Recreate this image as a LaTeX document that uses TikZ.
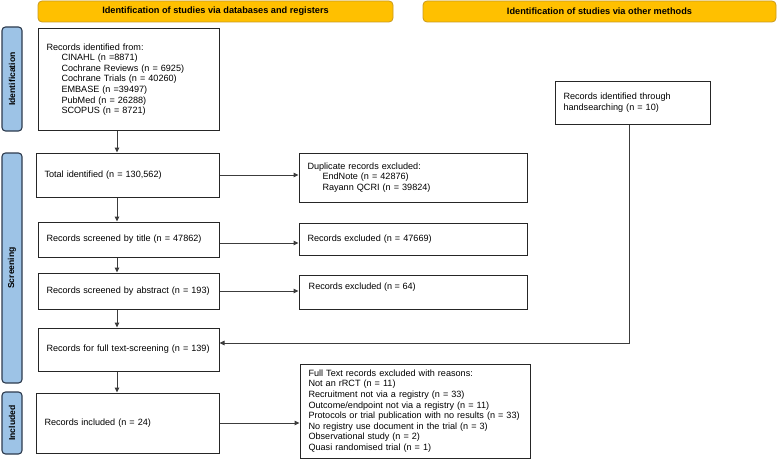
\documentclass[tikz,border=0pt]{standalone}
\usepackage{fontspec}
\setmainfont{Liberation Sans}
\usetikzlibrary{arrows.meta}
\definecolor{bannerfill}{HTML}{FFC000}
\definecolor{bannerdraw}{HTML}{C99A1E}
\definecolor{sidefill}{HTML}{9DC3E6}
\definecolor{sidedraw}{HTML}{2E3B4E}
\definecolor{linec}{HTML}{3C3C3C}
\begin{document}
\begin{tikzpicture}[x=1pt,y=-1pt,
  box/.style={draw=black!85, line width=1pt, fill=white, rectangle,
    inner xsep=8.5pt, inner ysep=0pt, align=left,
    font=\fontsize{9.1}{10.6}\selectfont, anchor=center},
  txt/.style={inner sep=0pt, align=left, font=\fontsize{9.1}{10.6}\selectfont},
  banner/.style={draw=bannerdraw, line width=0.8pt, fill=bannerfill, rounded corners=4pt,
    font=\bfseries\fontsize{9.2}{10}\selectfont, inner sep=0pt},
  side/.style={draw=sidedraw, line width=1.1pt, fill=sidefill, rounded corners=3.5pt, inner sep=0pt},
  sidelbl/.style={rotate=90, font=\bfseries\fontsize{8.6}{9}\selectfont, inner sep=0pt},
  arr/.style={draw=linec, line width=1pt, -{Triangle[length=5pt,width=4.5pt]}},
  ln/.style={draw=linec, line width=1pt}
]
\useasboundingbox (0,0) rectangle (778,460);

% banners
\node[banner, minimum width=355pt, minimum height=21pt] (b1) at (215.5,11.5)
  {Identification of studies via databases and registers};
\node[banner, minimum width=353pt, minimum height=21pt] (b2) at (599.5,11.5)
  {Identification of studies via other methods};

% side labels
\node[side, minimum width=20pt, minimum height=104pt] (s1) at (12,79) {};
\node[sidelbl] (s1t) at (s1.center) {Identification};
\node[side, minimum width=20pt, minimum height=230pt] (s2) at (12,268) {};
\node[sidelbl] (s2t) at (s2.center) {Screening};
\node[side, minimum width=20pt, minimum height=62pt] (s3) at (12,423) {};
\node[sidelbl] (s3t) at (s3.center) {Included};

% left column
\node[box, minimum width=181pt, minimum height=101pt, text width=164pt] (rec) at (128.5,79.5)
  {Records identified from:\\
   \hspace*{15pt}CINAHL (n =8871)\\
   \hspace*{15pt}Cochrane Reviews (n = 6925)\\
   \hspace*{15pt}Cochrane Trials (n = 40260)\\
   \hspace*{15pt}EMBASE (n =39497)\\
   \hspace*{15pt}PubMed (n = 26288)\\
   \hspace*{15pt}SCOPUS (n = 8721)};
\node[box, minimum width=183pt, minimum height=44pt, text width=166pt] (tot) at (127.5,175)
  {Total identified (n = 130,562)};
\node[box, minimum width=181pt, minimum height=35pt, text width=164pt] (tit) at (128.5,239.5)
  {Records screened by title (n = 47862)};
\node[box, minimum width=181pt, minimum height=36pt, text width=164pt] (abs) at (128.5,291)
  {Records screened by abstract (n = 193)};
\node[box, minimum width=181pt, minimum height=43pt, text width=164pt] (ft) at (128.5,349.5)
  {Records for full text-screening (n = 139)};
\node[box, minimum width=183pt, minimum height=60pt, text width=166pt] (inc) at (127.5,423)
  {Records included (n = 24)};

% right column
\node[box, minimum width=228pt, minimum height=49pt, text width=211pt] (dup) at (413,177.5)
  {Duplicate records excluded:\\
   \hspace*{15pt}EndNote (n = 42876)\\
   \hspace*{15pt}Rayann QCRI (n = 39824)};
\node[box, minimum width=228pt, minimum height=32pt, text width=211pt] (ex1) at (413,239)
  {Records excluded (n = 47669)};
\node[box, minimum width=228pt, minimum height=34pt] (ex2) at (413,292) {};
\node[txt, anchor=west] (ex2t) at (308.5,287) {Records excluded (n = 64)};
\node[box, minimum width=230pt, minimum height=94pt, text width=213pt] (fte) at (415,411)
  {Full Text records excluded with reasons:\\
   Not an rRCT (n = 11)\\
   Recruitment not via a registry (n = 33)\\
   Outcome/endpoint not via a registry (n = 11)\\
   Protocols or trial publication with no results (n = 33)\\
   No registry use document in the trial (n = 3)\\
   Observational study (n = 2)\\
   Quasi randomised trial (n = 1)};

% other methods
\node[box, minimum width=155pt, minimum height=43pt, text width=138pt] (hand) at (632.5,102.5)
  {Records identified through\\handsearching (n = 10)};

% connectors
\coordinate (vx) at (117,0);
\coordinate (hx) at (629,0);
\draw[arr] (rec.south -| vx) -- (tot.north -| vx);
\draw[arr] (tot.south -| vx) -- (tit.north -| vx);
\draw[arr] (tit.south -| vx) -- (abs.north -| vx);
\draw[arr] (abs.south -| vx) -- (ft.north -| vx);
\draw[arr] (ft.south -| vx) -- (inc.north -| vx);

\draw[arr] (tot.east) -- (tot.east -| dup.west);
\draw[arr] ([yshift=-3.5pt]tit.east) -- ([yshift=-3.5pt]tit.east -| ex1.west);
\draw[arr] (abs.east) -- (abs.east -| ex2.west);
\draw[arr] (inc.east) -- (inc.east -| fte.west);

\coordinate (hend) at ([yshift=6.5pt]ft.east);
\draw[arr] (hand.south -| hx) |- (hend);
\end{tikzpicture}
\end{document}
